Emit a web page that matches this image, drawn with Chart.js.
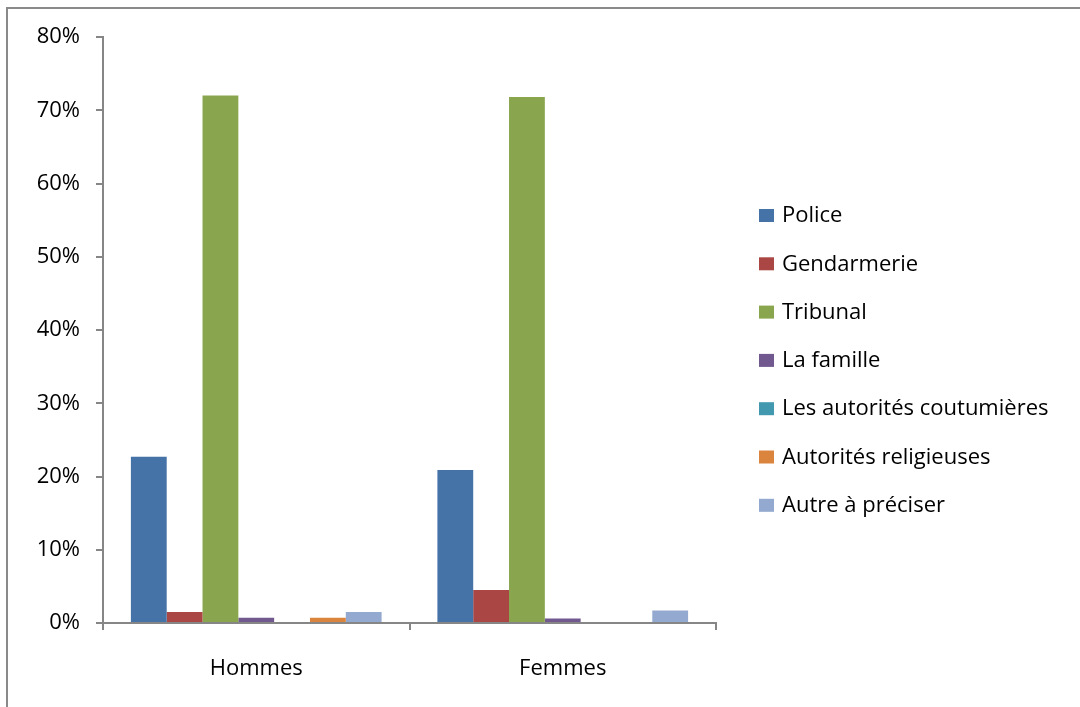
<!DOCTYPE html>
<html lang="fr">
  <head>
    <meta charset="UTF-8" />
    <title>Recours par sexe</title>
    <style>
      body {
        margin: 0;
        padding: 0;
        background-color: #fff;
      }
      .chart {
        width: 1080px;
        height: 707px;
        position: relative;
      }
    </style>
  </head>
  <body>
    <div class="chart">
      <canvas id="recoursChart"></canvas>
    </div>

    <script src="https://cdn.jsdelivr.net/npm/chart.js"></script>
    <script>
      // Data (percent)
      const categories = ["Hommes", "Femmes"];
      const seriesNames = [
        "Police",
        "Gendarmerie",
        "Tribunal",
        "La famille",
        "Les autorités coutumières",
        "Autorités religieuses",
        "Autre à préciser",
      ];
      const police = [22.7, 20.9];
      const gendarmerie = [1.5, 4.5];
      const tribunal = [72.0, 71.8];
      const famille = [0.7, 0.6];
      const coutumieres = [0, 0];
      const religieuses = [0.7, 0];
      const autre = [1.5, 1.7];
      const yTicks = [0, 10, 20, 30, 40, 50, 60, 70, 80];

      const colors = ["#4572a7", "#aa4643", "#89a54e", "#71588f", "#4198af", "#db843d", "#93a9cf"];
      const values = [police, gendarmerie, tribunal, famille, coutumieres, religieuses, autre];

      const FONT = "'Open Sans', sans-serif";

      // outer frame like the spreadsheet chart border
      const framePlugin = {
        id: "frame",
        beforeDraw(chart) {
          const ctx = chart.ctx;
          ctx.save();
          ctx.strokeStyle = "#8a8a8a";
          ctx.lineWidth = 2;
          ctx.strokeRect(7, 8, 1200, 800);
          ctx.restore();
        },
      };

      // legend drawn at a fixed spot on the right
      const sideLegend = {
        id: "sideLegend",
        afterDraw(chart) {
          const ctx = chart.ctx;
          ctx.save();
          ctx.font = "22px " + FONT;
          ctx.textBaseline = "middle";
          chart.data.datasets.forEach((ds, i) => {
            const y = 216 + i * 48.3;
            ctx.fillStyle = ds.backgroundColor;
            ctx.fillRect(759, y - 7, 15, 13);
            ctx.fillStyle = "#000";
            ctx.fillText(ds.label, 782, y);
          });
          ctx.restore();
        },
      };

      const recoursChart = new Chart(document.getElementById("recoursChart"), {
        type: "bar",
        data: {
          labels: categories,
          datasets: seriesNames.map((name, i) => ({
            label: name,
            data: values[i],
            backgroundColor: colors[i],
            borderWidth: 0,
            categoryPercentage: 0.818,
            barPercentage: 1,
          })),
        },
        options: {
          responsive: true,
          maintainAspectRatio: false,
          animation: false,
          layout: {
            padding: { left: 0, top: 37, right: 364, bottom: 0 },
          },
          plugins: {
            legend: { display: false },
            tooltip: { enabled: false },
          },
          scales: {
            x: {
              grid: {
                display: true,
                offset: true,
                drawOnChartArea: false,
                tickLength: 7,
                color: "#868686",
                lineWidth: 2,
              },
              border: { display: true, color: "#868686", width: 2 },
              ticks: {
                color: "#000",
                font: { family: FONT, size: 22 },
                padding: 26,
              },
              afterFit(scale) {
                scale.height = 84;
              },
            },
            y: {
              min: 0,
              max: 80,
              afterBuildTicks(scale) {
                scale.ticks = yTicks.map((v) => ({ value: v }));
              },
              grid: {
                display: true,
                drawOnChartArea: false,
                tickLength: 7,
                color: "#868686",
                lineWidth: 2,
              },
              border: { display: true, color: "#868686", width: 2 },
              ticks: {
                color: "#000",
                font: { family: FONT, size: 22 },
                padding: 16,
                callback: (v) => v + "%",
              },
              afterFit(scale) {
                scale.width = 103;
              },
            },
          },
        },
        plugins: [framePlugin, sideLegend],
      });
    </script>
  </body>
</html>
